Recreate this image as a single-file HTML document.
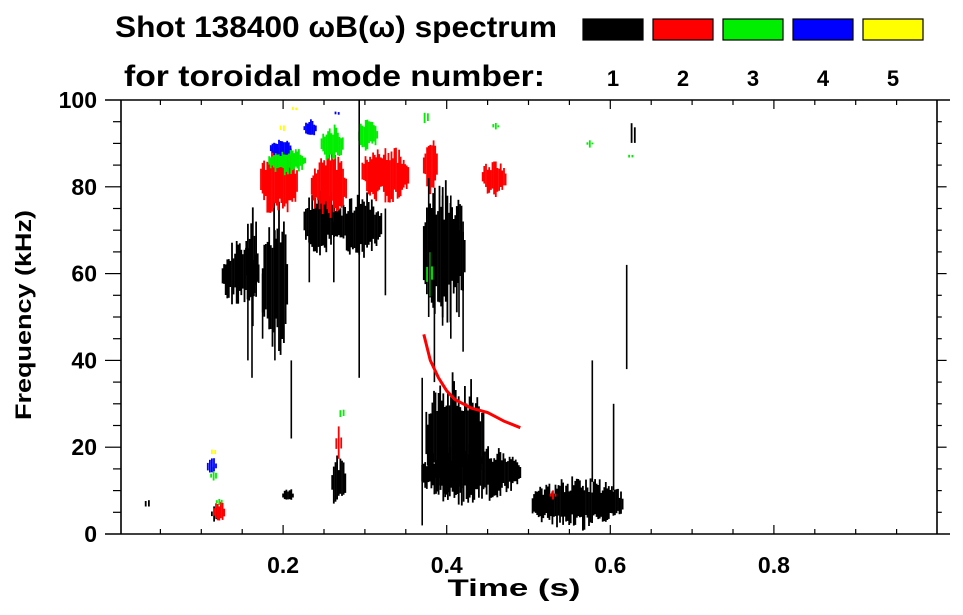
<!DOCTYPE html>
<html><head><meta charset="utf-8">
<style>
body{margin:0;background:#fff;}
svg{display:block;font-family:"Liberation Sans",Arial,sans-serif;font-weight:bold;}
</style></head>
<body>
<svg id="chart" width="963" height="615" viewBox="0 0 963 615" xmlns="http://www.w3.org/2000/svg">
<text x="115" y="37" font-size="30" textLength="442" lengthAdjust="spacingAndGlyphs">Shot 138400 ωB(ω) spectrum</text>
<text x="124" y="86" font-size="30" textLength="421" lengthAdjust="spacingAndGlyphs">for toroidal mode number:</text>
<g id="legend"></g>
<g id="marks"></g>
<g id="axes"></g>
<text transform="translate(31,315) rotate(-90)" text-anchor="middle" font-size="22" textLength="210" lengthAdjust="spacingAndGlyphs">Frequency (kHz)</text>
<text x="514" y="596" text-anchor="middle" font-size="24" textLength="133" lengthAdjust="spacingAndGlyphs">Time (s)</text>
</svg>
<script>
// ---- data ----
const modeColors = ["#000000","#ff0000","#00ee00","#0000ff","#ffff00"];
const modeLabels = ["1","2","3","4","5"];
const xTicks = [0.2,0.4,0.6,0.8];
const yTicks = [0,20,40,60,80,100];
// blobs: center time (s), center freq (kHz), half-width (s), half-height (kHz), mode index
const blobT  = [0.148,0.162,0.19,0.248,0.295,0.034,0.117,0.206,0.268,0.43,0.41,0.397,0.56,0.628,0.195,0.256,0.325,0.38,0.458,0.268,0.122,0.53,0.205,0.26,0.304,0.375,0.379,0.272,0.115,0.122,0.46,0.625,0.575,0.197,0.233,0.266,0.113,0.199,0.115,0.214];
const blobF  = [60,62,58,72,71,7,4.5,9,12,14,22,65,7,92,81,80,83,85,82,21,5,9,86,90,92,96,60,28,13.5,7.5,94,87,90,89,93.5,97,15.5,93.5,19,98];
const blobDt = [0.022,0.007,0.015,0.022,0.025,0.002,0.004,0.006,0.008,0.06,0.035,0.025,0.055,0.002,0.022,0.021,0.028,0.008,0.014,0.003,0.006,0.003,0.022,0.013,0.011,0.002,0.003,0.002,0.003,0.003,0.003,0.002,0.003,0.012,0.007,0.002,0.005,0.002,0.002,0.002];
const blobDf = [7,13,17,7,7,2,2,1.5,6,6,14,15,5.5,6,8,7,6,6,4,4,2.5,1,3,4,3.5,4,5,3,1.8,1,1,1,1,2,2,1,2,1.5,1.5,1];
const blobM  = [0,0,0,0,0,0,0,0,0,0,0,0,0,0,1,1,1,1,1,1,1,1,2,2,2,2,2,2,2,2,2,2,2,3,3,3,3,4,4,4];
// streaks: time, low freq, high freq, mode
const streakT  = [0.157,0.162,0.19,0.293,0.2,0.21,0.325,0.378,0.385,0.395,0.405,0.415,0.42,0.578,0.604,0.62,0.175,0.232,0.262,0.37];
const streakF0 = [40,36,40,36,48,22,55,50,35,48,45,50,42,12,10,38,45,58,58,2];
const streakF1 = [60,70,70,100,65,40,75,82,68,78,78,70,72,40,30,62,60,72,72,36];
const streakM  = [0,0,0,0,0,0,0,0,0,0,0,0,0,0,0,0,0,0,0,0];
// red curve (mode 2) points along chirp
const curveT = [0.372,0.38,0.39,0.40,0.41,0.42,0.43,0.44,0.45,0.46,0.47,0.49];
const curveF = [46,40,36,33,31,30,29,28.5,28,27,26,24.5];

// ---- axes ----
const X0=119.5, XS=818, Y0=534, YS=4.34;
const x = t => X0 + XS*t;
const y = f => Y0 - YS*f;
const NS="http://www.w3.org/2000/svg";
function mk(tag, attrs, parent){const e=document.createElementNS(NS,tag);for(const k in attrs)e.setAttribute(k,attrs[k]);parent.appendChild(e);return e;}
// deterministic texture helper (styling only)
function jit(i,k){const s=Math.sin(i*12.9898+k*78.233)*43758.5453;return s-Math.floor(s);}

const marks=document.getElementById('marks');
blobT.forEach((t,i)=>{
  const g=mk('g',{fill:modeColors[blobM[i]]},marks);
  
  
  const xa=x(t-blobDt[i]), xb=x(t+blobDt[i]);
  const n=Math.max(1,Math.round((xb-xa)/1.5));
  for(let k=0;k<n;k++){
    const u=n===1?0:(k/(n-1))*2-1;
    const prof=Math.sqrt(Math.max(0,1-u*u*0.85));
    const hUp=blobDf[i]*prof*(0.45+0.7*jit(i,k));
    const hDn=blobDf[i]*prof*(0.45+0.7*jit(i,k+97));
    mk('rect',{x:(xa+k*(xb-xa)/Math.max(1,n-1)-0.9).toFixed(1),y:y(blobF[i]+hUp).toFixed(1),width:1.8,height:Math.max(1,(hUp+hDn)*YS).toFixed(1)},g);
  }
});
streakT.forEach((t,i)=>{
  const r=mk('rect',{x:(x(t)-0.8).toFixed(1),y:y(streakF1[i]).toFixed(1),width:1.6,height:((streakF1[i]-streakF0[i])*YS).toFixed(1),fill:modeColors[streakM[i]]},marks);
  
  
});
{
  let d='';curveT.forEach((t,i)=>{d+=(i?'L':'M')+x(t).toFixed(1)+','+y(curveF[i]).toFixed(1);});
  const p=mk('path',{d:d,fill:'none',stroke:modeColors[1],'stroke-width':3},marks);
  
  
}

const axes=document.getElementById('axes');
const L=x(0)+1.5, R=x(1)-0.5, T=y(100), B=y(0);
const frame=mk('path',{d:`M105,${T}H950M105,${B}H950M${L},${T}V${B}M${R},${T}V${B}`,stroke:'#000','stroke-width':1.6,fill:'none'},axes);


for(let t=0.05;t<1;t+=0.05){
  const maj=Math.abs(t/0.2-Math.round(t/0.2))<1e-6;
  const len=maj?9:5;
  mk('line',{x1:x(t),x2:x(t),y1:B,y2:B-len,stroke:'#000','stroke-width':1.2},axes);
  mk('line',{x1:x(t),x2:x(t),y1:T,y2:T+len,stroke:'#000','stroke-width':1.2},axes);
}
for(let f=5;f<100;f+=5){
  const maj=f%20===0, len=maj?16:8;
  mk('line',{x1:L,x2:L-len,y1:y(f),y2:y(f),stroke:'#000','stroke-width':1.2},axes);
  mk('line',{x1:R,x2:R+len*0.6,y1:y(f),y2:y(f),stroke:'#000','stroke-width':1.2},axes);
}
xTicks.forEach(t=>{
  const tx=mk('text',{x:x(t),y:573,'text-anchor':'middle','font-size':23},axes);
  tx.textContent=t.toFixed(1);
  
  
});
yTicks.forEach(f=>{
  const tx=mk('text',{x:97,y:y(f)+8,'text-anchor':'end','font-size':23},axes);
  tx.textContent=f;
  
  
});
const leg=document.getElementById('legend');
modeLabels.forEach((lab,i)=>{
  const bx=583+i*70;
  const r=mk('rect',{x:bx,y:19,width:60,height:21,fill:modeColors[i],stroke:'#000','stroke-width':1.2},leg);
  
  
  const tx=mk('text',{x:bx+30,y:86,'text-anchor':'middle','font-size':22},leg);
  tx.textContent=lab;
  
  
});
</script>
</body></html>
